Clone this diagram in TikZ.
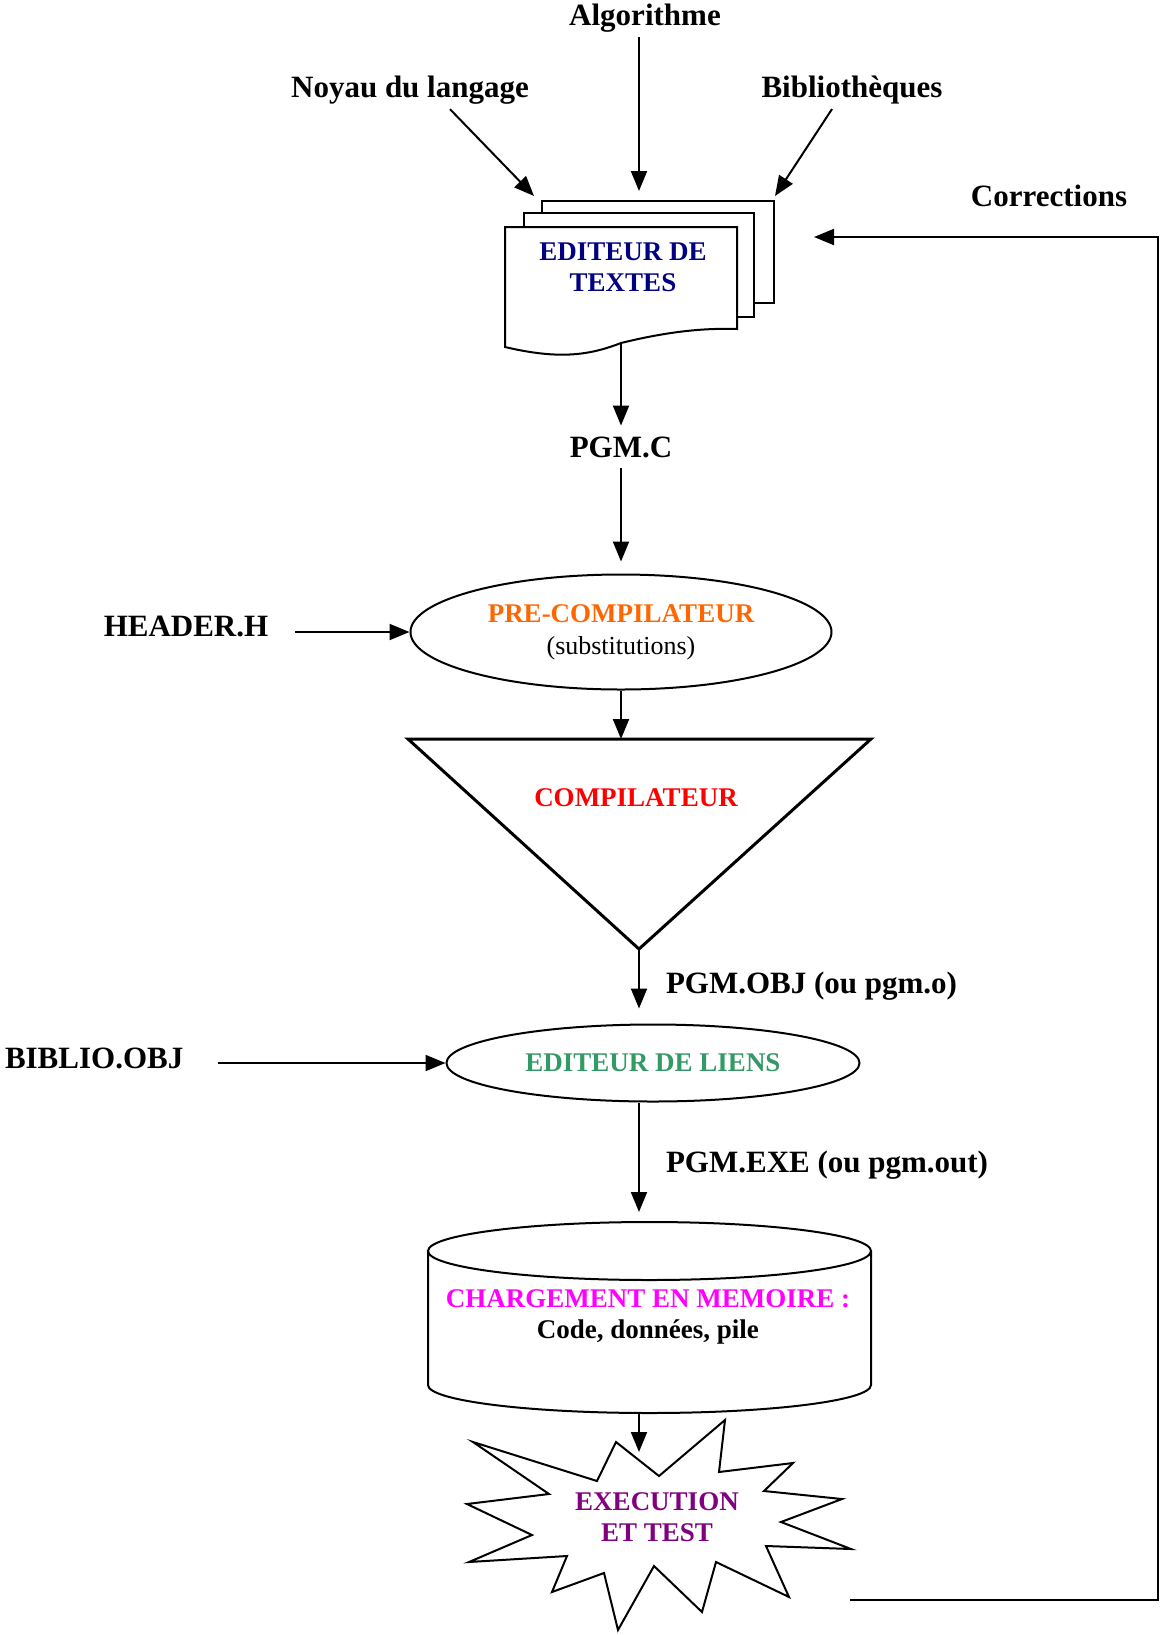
\documentclass[tikz,border=0pt]{standalone}
\usepackage{fontspec}
\setmainfont{Liberation Serif}
\usepackage{xcolor}
\usetikzlibrary{arrows.meta,shapes.geometric}
\definecolor{edblue}{HTML}{000080}
\definecolor{preorange}{HTML}{FF6600}
\definecolor{lienvert}{HTML}{339966}
\definecolor{memrose}{HTML}{FF00FF}
\definecolor{execpurple}{HTML}{800080}
\tikzset{Lbl/.style={font=\fontsize{15.5}{17}\selectfont\bfseries,inner sep=2pt},
  Txt/.style={font=\fontsize{13.5}{15.5}\selectfont\bfseries,align=center,inner sep=0pt},
  Ell/.style={ellipse,draw,line width=1pt,inner sep=0pt,font=\fontsize{13.5}{16}\selectfont\bfseries,align=center},
  Arr/.style={-{Triangle[length=10pt,width=8pt]},line width=1pt}}

\begin{document}
\begin{tikzpicture}[x=0.5pt,y=-0.5pt,line width=1pt]
    \useasboundingbox (0,0) rectangle (1160,1635);
    % entrees de l'editeur
    \node[Lbl] (alg) at (645,18) {Algorithme};
    \node[Lbl] (noyau) at (410,90) {Noyau du langage};
    \node[Lbl] (biblio) at (852,90) {Bibliothèques};
    \node[Lbl] (corr) at (1049,196) {Corrections};
    % pile de feuilles
    \filldraw[fill=white] (542,201) rectangle (774,303);
    \filldraw[fill=white] (524,213) rectangle (754,317);
    \filldraw[fill=white] (505,227) -- (737,227) -- (737,329)
      .. controls (705,328) and (670,331) .. (621,343)
      .. controls (590,355) and (560,360) .. (505,347) -- cycle;
    \node[Txt,text=edblue] (edit) at (623,267) {EDITEUR DE\\TEXTES};
    \coordinate (algIn) at (639,191);
    \coordinate (noyIn) at (534,196);
    \coordinate (bibIn) at (775,196);
    \coordinate (corrIn) at (814,237);
    \coordinate (docOut) at (621,343);
    % chaine de compilation
    \node[Lbl] (pgmc) at (621,447) {PGM.C};
    \node[Ell,minimum width=210.5pt,minimum height=57.5pt] (pre) at (621,632)
      {\textcolor{preorange}{PRE-COMPILATEUR}\\{\fontsize{13}{15}\selectfont\mdseries (substitutions)}};
    \node[Lbl] (header) at (186,626) {HEADER.H};
    \draw[line width=1.5pt] (408,739) -- (871,739) -- (639,949) -- cycle;
    \node[Txt,text=red] (comp) at (636,798) {COMPILATEUR};
    \coordinate (compIn) at (621,739);
    \coordinate (compTip) at (639,949);
    \node[Lbl,anchor=west] (pgmobj) at (661,986) {PGM.OBJ (ou pgm.o)};
    \node[Ell,minimum width=206.5pt,minimum height=38.5pt,text=lienvert] (lien) at (653,1063) {EDITEUR DE LIENS};
    \node[Lbl,anchor=west,inner sep=0pt] (bobj) at (4,1058) {BIBLIO.OBJ};
    \node[Lbl,anchor=west] (pgmexe) at (661,1165) {PGM.EXE (ou pgm.out)};
    % memoire
    \draw (428,1251) -- (428,1385) arc[start angle=180,end angle=360,x radius=110.75pt,y radius=14pt] -- (871,1251);
    \draw (649.5,1251) ellipse[x radius=110.75pt,y radius=14.5pt];
    \node[Txt] (mem) at (648,1317) {\textcolor{memrose}{CHARGEMENT EN MEMOIRE :}\\Code, données, pile};
    \coordinate (cylIn) at (639,1212);
    \coordinate (cylBot) at (639,1413);
    % execution
    \draw (473,1442) -- (597,1481) -- (616,1442) -- (659,1476) -- (725,1420) -- (719,1472)
      -- (793,1463) -- (764,1491) -- (842,1499) -- (781,1522) -- (851,1549) -- (766,1546)
      -- (789,1597) -- (716,1562) -- (702,1612) -- (654,1566) -- (618,1630) -- (604,1573)
      -- (552,1592) -- (567,1556) -- (469,1562) -- (532,1535) -- (467,1504) -- (549,1494) -- cycle;
    \node[Txt,text=execpurple] (exec) at (657,1517) {EXECUTION\\ET TEST};
    \coordinate (execIn) at (639,1452);
    \coordinate (execR) at (850,1600);
    \coordinate (loopC) at (1158,1600);
    \begin{scope}[Arr]
      \draw (alg.south -| algIn) -- (algIn);
      \draw ([xshift=20pt]noyau.south) -- (noyIn);
      \draw ([xshift=-10pt]biblio.south) -- (bibIn);
      \draw[shorten >=3pt] (docOut) -- (pgmc);
      \draw[shorten <=3pt,shorten >=6pt] (pgmc) -- (pre);
      \draw[shorten <=11pt] (header.east |- pre.west) -- (pre.west);
      \draw (pre) -- (compIn);
      \draw[shorten >=7.5pt] (compTip) -- (compTip |- lien.north);
      \draw[shorten <=17pt] (bobj.east |- lien.west) -- (lien.west);
      \draw (lien.south -| compTip) -- (cylIn);
      \draw (cylBot) -- (execIn);
      \draw (execR) -- (loopC) |- (corrIn);
    \end{scope}
\end{tikzpicture}
\end{document}
